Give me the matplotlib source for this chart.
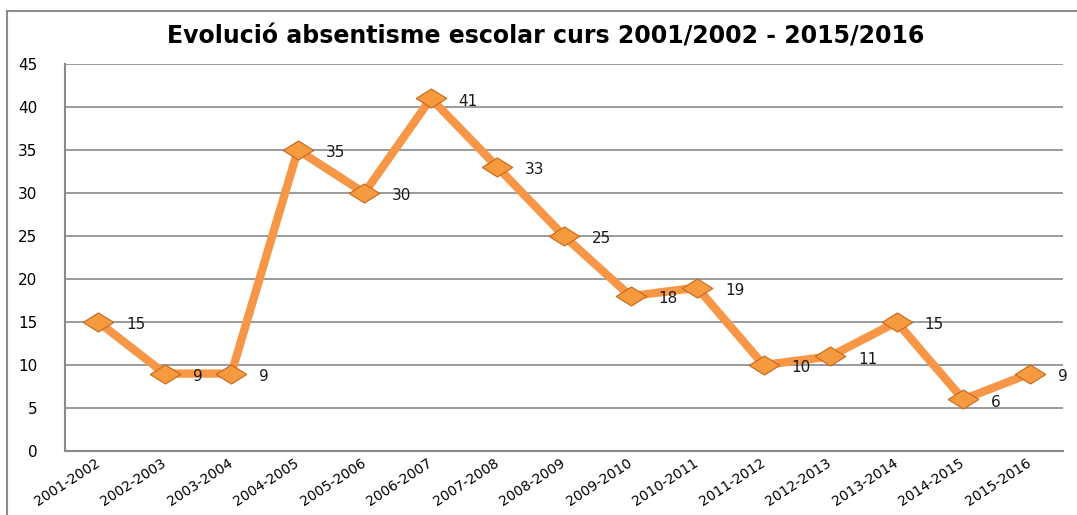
import matplotlib.pyplot as plt
from matplotlib.patches import Rectangle

courses = ['2001-2002', '2002-2003', '2003-2004', '2004-2005', '2005-2006',
           '2006-2007', '2007-2008', '2008-2009', '2009-2010', '2010-2011',
           '2011-2012', '2012-2013', '2013-2014', '2014-2015', '2015-2016']
absences = [15, 9, 9, 35, 30, 41, 33, 25, 18, 19, 10, 11, 15, 6, 9]
yticks = [0, 5, 10, 15, 20, 25, 30, 35, 40, 45]

W, H = 1077, 515
fig = plt.figure(figsize=(W / 100, H / 100), dpi=100)
ax = fig.add_axes([65 / W, 1 - 451 / H, 998 / W, 387 / H])

# outer frame of the chart area
fig.patches.append(Rectangle((7 / W, -0.1), 1.2, 1 - 11 / H + 0.1,
                             transform=fig.transFigure, fill=False,
                             edgecolor='#8c8c8c', linewidth=1.5))

# wide diamond marker
diamond = [(-1.6, 0), (0, 1), (1.6, 0), (0, -1), (-1.6, 0)]
x = range(len(courses))
ax.plot(x, absences, color='#F79646', linewidth=6, solid_joinstyle='miter',
        marker=diamond, markersize=22, markerfacecolor='#F59A3E',
        markeredgecolor='#C8661A', markeredgewidth=0.8, zorder=3)

for i, v in enumerate(absences):
    ax.annotate(str(v), (i, v), xytext=(20, -2), textcoords='offset points',
                ha='left', va='center', fontsize=11, color='#1a1a1a')

ax.set_xlim(-0.5, len(courses) - 0.5)
ax.set_ylim(0, 45)
ax.set_yticks(yticks)
ax.set_xticks(list(x))
ax.set_xticklabels(courses, rotation=33, ha='right', va='center',
                   rotation_mode='anchor', fontsize=10)
ax.tick_params(axis='both', length=0)
ax.tick_params(axis='y', pad=20, labelsize=11)
ax.tick_params(axis='x', pad=8)
ax.grid(axis='y', color='#8a8a8a', linewidth=1.2)
ax.set_axisbelow(True)
for side in ['top', 'right']:
    ax.spines[side].set_visible(False)
for side in ['left', 'bottom']:
    ax.spines[side].set_color('#8a8a8a')
    ax.spines[side].set_linewidth(1.5)

fig.text(546 / W, 1 - 36 / H, 'Evolució absentisme escolar curs 2001/2002 - 2015/2016',
         ha='center', va='center', fontsize=17, fontweight='bold')

fig.savefig('out.png', dpi=100)
